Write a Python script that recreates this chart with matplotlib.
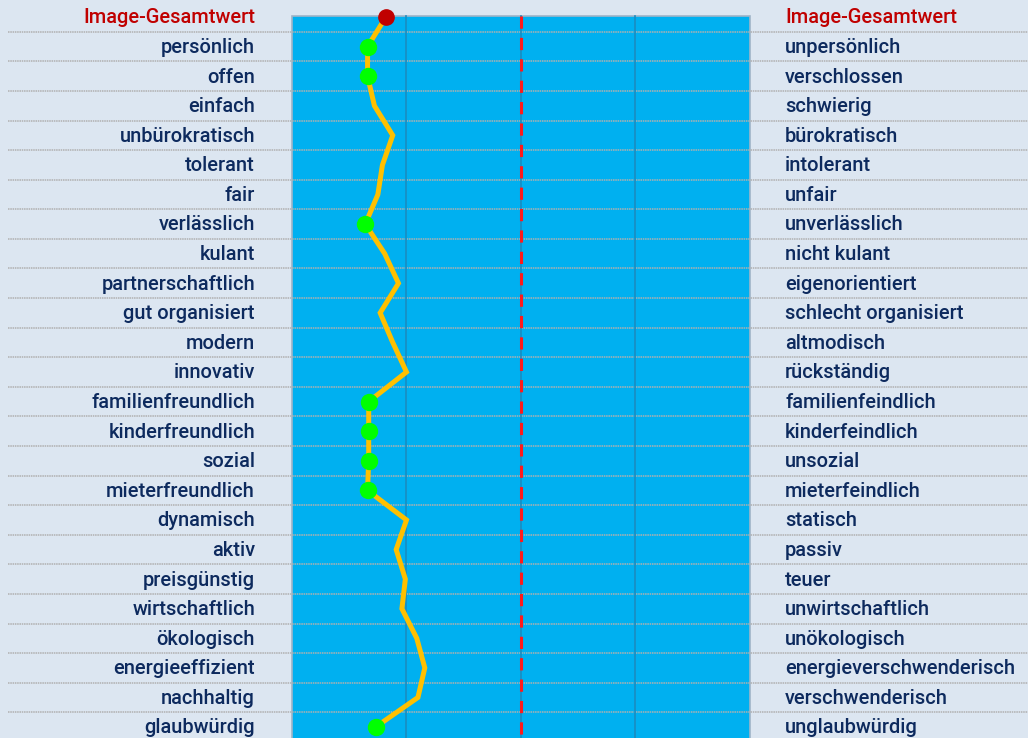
import matplotlib
matplotlib.use("Agg")
import matplotlib.pyplot as plt
from matplotlib.patches import Rectangle

# Polaritätsprofil: linke / rechte Eigenschaft, Wert auf Skala 1..5
links = ['Image-Gesamtwert', 'persönlich', 'offen', 'einfach', 'unbürokratisch',
         'tolerant', 'fair', 'verlässlich', 'kulant', 'partnerschaftlich',
         'gut organisiert', 'modern', 'innovativ', 'familienfreundlich',
         'kinderfreundlich', 'sozial', 'mieterfreundlich', 'dynamisch', 'aktiv',
         'preisgünstig', 'wirtschaftlich', 'ökologisch', 'energieeffizient',
         'nachhaltig', 'glaubwürdig']
rechts = ['Image-Gesamtwert', 'unpersönlich', 'verschlossen', 'schwierig',
          'bürokratisch', 'intolerant', 'unfair', 'unverlässlich', 'nicht kulant',
          'eigenorientiert', 'schlecht organisiert', 'altmodisch', 'rückständig',
          'familienfeindlich', 'kinderfeindlich', 'unsozial', 'mieterfeindlich',
          'statisch', 'passiv', 'teuer', 'unwirtschaftlich', 'unökologisch',
          'energieverschwenderisch', 'verschwenderisch', 'unglaubwürdig']
werte = [1.82, 1.66, 1.66, 1.72, 1.88, 1.79, 1.75, 1.64, 1.81, 1.93, 1.77, 1.88,
         2.00, 1.67, 1.67, 1.67, 1.66, 2.00, 1.91, 1.99, 1.96, 2.09, 2.16, 2.10, 1.73]
gruen = ['persönlich', 'offen', 'verlässlich', 'familienfreundlich',
         'kinderfreundlich', 'sozial', 'mieterfreundlich', 'glaubwürdig']

bg = '#dce6f1'
navy = '#0d2a5e'
rot = '#c00000'

fig = plt.figure(figsize=(10.28, 7.38), dpi=100, facecolor=bg)
ax = fig.add_axes([0, 0, 1, 1])
ax.set_facecolor(bg)
ax.set_xlim(-1.550, 7.428)
ax.set_ylim(24.37, -0.575)
ax.axis('off')

n = len(links)
y = list(range(n))

# blaues Feld
ax.add_patch(Rectangle((1, -0.05), 4, n + 1, facecolor='#00b0f0',
                       edgecolor='#9fb4c8', linewidth=1.2, zorder=1))
# Trennlinien
for i in range(n - 1):
    ax.plot([-1.48, 7.5], [i + 0.5, i + 0.5], color='#b0b0b0', linewidth=1.1,
            linestyle=(0, (1, 0.5)), zorder=2)
# Skalenlinien
for xv in [2, 3, 4]:
    ax.plot([xv, xv], [-0.05, n + 1], color='#1a8cc0', linewidth=1.2, zorder=2)
ax.plot([3, 3], [-0.05, n + 1], color='#ff1a1a', linewidth=2.2,
        linestyle=(0, (4, 3)), zorder=3)

# Profilinie
ax.plot(werte, y, color='#ffc000', linewidth=3.6, solid_joinstyle='miter', zorder=4)
for i, lab in enumerate(links):
    if i == 0:
        ax.plot(werte[i], i, 'o', color='#c00000', markersize=11, zorder=5)
    elif lab in gruen:
        ax.plot(werte[i], i, 'o', color='#00ff00', markersize=11.5, zorder=5)

font = dict(family='Roboto', fontweight='medium', fontsize=14.4)
for i in range(n):
    c = rot if i == 0 else navy
    ax.text(0.677, i + 0.03, links[i], ha='right', va='center', color=c, **font)
    ax.text(5.306, i + 0.03, rechts[i], ha='left', va='center', color=c, **font)

fig.savefig('out.png', dpi=100, facecolor=bg)
